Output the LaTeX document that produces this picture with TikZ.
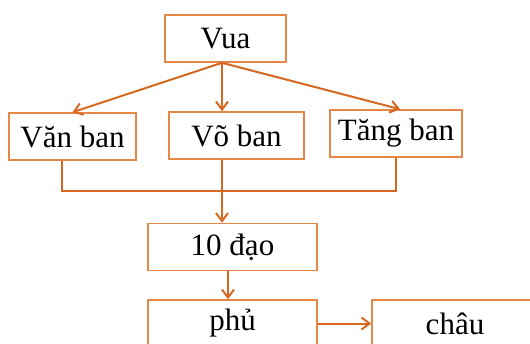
\documentclass[tikz,border=0pt]{standalone}
\usepackage{fontspec}
\setmainfont{Liberation Serif}
\usetikzlibrary{arrows.meta}
\definecolor{linecol}{RGB}{214,104,32}
\definecolor{boxcol}{RGB}{230,135,70}
\begin{document}
\begin{tikzpicture}[x=0.5pt,y=-0.5pt,
	box/.style={draw=boxcol,line width=0.8pt,minimum height=23.5pt,inner sep=0pt,font=\fontsize{15.5}{18}\selectfont},
	link/.style={draw=linecol,line width=1pt},
	arr/.style={link,-{Straight Barb[length=4pt,width=6pt]}}]
				\useasboundingbox (0,0) rectangle (530,343);
				\clip (0,0) rectangle (530,343);
				\node[box,minimum width=60.5pt] (vua) at (225.5,38.5) {Vua};
				\node[box,minimum width=63.5pt] (van) at (72.5,136.5) {Văn ban};
				\node[box,minimum width=67.5pt] (vo) at (236.5,135.5) {Võ ban};
				\node[box,minimum width=66pt] (tang) at (396,133.5) {Tăng ban};
				\node[box,minimum width=84.5pt] (dao) at (232.5,247) {10 đạo};
				\node[box,minimum width=84.5pt] (phu) at (232.5,323.5) {phủ};
				\node[box,minimum width=83pt] (chau) at (455,323.5) {châu};
				\draw[arr] ([xshift=-1.75pt]vua.south) -- (van.north);
				\draw[arr] ([xshift=-1.75pt]vua.south) -- ([xshift=-7.25pt]vo.north);
				\draw[arr] ([xshift=-1.75pt]vua.south) -- ([xshift=2pt]tang.north);
				\coordinate (join) at ([xshift=-7.25pt,yshift=-15.5pt]vo.south);
				\draw[link] ([xshift=-5.25pt]van.south) |- (join) -| (tang.south);
				\draw[arr] ([xshift=-7.25pt]vo.south) -- ([xshift=-5.25pt]dao.north);
				\draw[arr] ([xshift=-2.25pt]dao.south) -- ([xshift=-2.25pt]phu.north);
				\draw[arr] (phu.east) -- (chau.west);
\end{tikzpicture}
\end{document}
